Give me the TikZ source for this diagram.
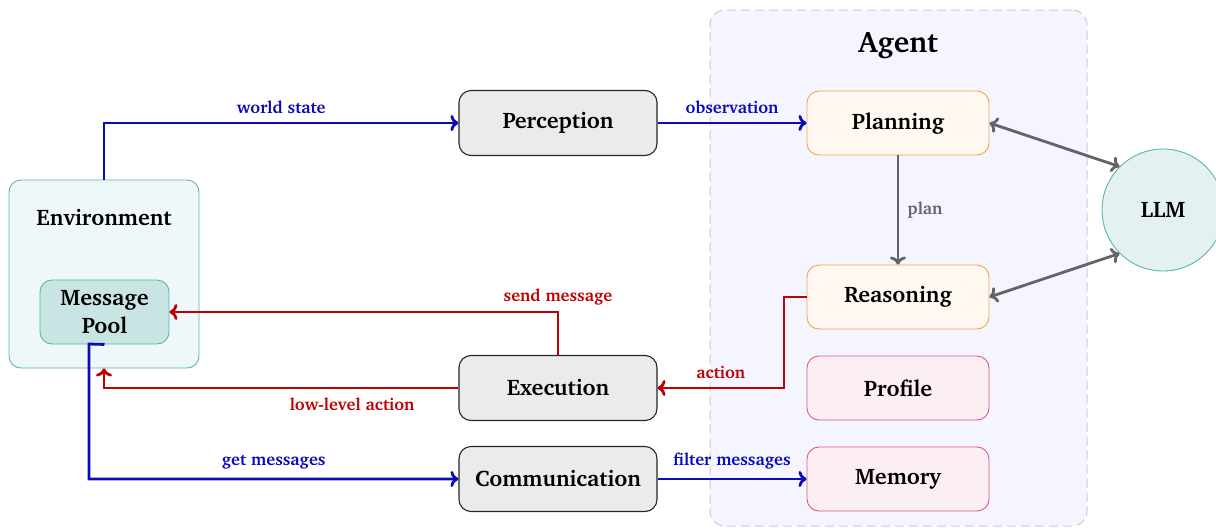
\documentclass[tikz,border=0pt]{standalone}
\usepackage[T1]{fontenc}
\usepackage{charter}
\usetikzlibrary{arrows.meta}
\definecolor{ablue}{RGB}{10,10,185}
\definecolor{ared}{RGB}{190,0,0}
\definecolor{agray}{RGB}{100,100,100}
\definecolor{grayfill}{RGB}{235,235,235}
\definecolor{orfill}{RGB}{255,248,240}
\definecolor{ordraw}{RGB}{242,165,74}
\definecolor{pkfill}{RGB}{252,239,244}
\definecolor{pkdraw}{RGB}{218,90,138}
\definecolor{envfill}{RGB}{239,248,248}
\definecolor{tealdraw}{RGB}{90,180,176}
\definecolor{poolfill}{RGB}{200,229,228}
\definecolor{llmfill}{RGB}{227,241,240}
\definecolor{agfill}{RGB}{245,245,255}
\definecolor{agdraw}{RGB}{204,204,204}
\tikzset{
  boxfont/.style={font=\fontsize{22.5}{28}\selectfont\bfseries},
  lblfont/.style={font=\fontsize{17}{20}\selectfont\bfseries},
  modbox/.style={boxfont, rounded corners=12pt, minimum width=198pt, minimum height=65pt, line width=1.1pt, draw=black!85, fill=grayfill},
  agbox/.style={boxfont, rounded corners=12pt, minimum width=182pt, minimum height=64pt, line width=0.9pt},
  orbox/.style={agbox, draw=ordraw, fill=orfill},
  pkbox/.style={agbox, draw=pkdraw, fill=pkfill},
  tip/.style={-{Computer Modern Rightarrow[length=8pt,width=16pt]}},
  bluearrow/.style={tip, draw=ablue, line width=2.8pt},
  redarrow/.style={tip, draw=ared, line width=2.8pt},
  grayarrow/.style={tip, draw=agray, line width=2.8pt},
  grayboth/.style={{Computer Modern Rightarrow[length=8pt,width=16pt]}-{Computer Modern Rightarrow[length=8pt,width=16pt]}, draw=agray, line width=2.8pt},
  bluelbl/.style={lblfont, text=ablue},
  redlbl/.style={lblfont, text=ared},
  graylbl/.style={lblfont, text=agray},
}
\begin{document}
\begin{tikzpicture}[x=1pt,y=-1pt]
\useasboundingbox (0,0) rectangle (1216,528);
% Agent container
\node[draw=agdraw, dash pattern=on 9pt off 5pt, fill=agfill, line width=1pt, rounded corners=15pt, minimum width=377pt, minimum height=516pt] (agent) at (898.5,268) {};
\node[font=\fontsize{29.5}{34}\selectfont\bfseries] (agenttitle) at (898,45) {Agent};
% Environment
\node[draw=tealdraw, fill=envfill, line width=0.9pt, rounded corners=12pt, minimum width=190pt, minimum height=188pt] (env) at (104,274) {};
\node[boxfont] (envlabel) at (104,218) {Environment};
\node[boxfont, align=center, draw=tealdraw, fill=poolfill, line width=0.9pt, rounded corners=12pt, minimum width=129pt, minimum height=64pt] (pool) at (104.5,312) {Message\\Pool};
% Modules
\node[modbox] (perc) at (558,123) {Perception};
\node[modbox] (exec) at (558,388) {Execution};
\node[modbox] (comm) at (558,479) {Communication};
% Agent parts
\node[orbox] (plan) at (898,123) {Planning};
\node[orbox] (reas) at (898,297) {Reasoning};
\node[pkbox] (prof) at (898,388) {Profile};
\node[pkbox] (mem) at (898,479) {Memory};
% LLM
\node[boxfont, circle, draw=tealdraw, fill=llmfill, line width=0.9pt, minimum size=122pt] (llm) at (1163,210) {LLM};
% Connectors
\draw[bluearrow] (env.north) |- node[bluelbl, pos=0.75, above=5pt] {world state} (perc.west);
\draw[bluearrow] (perc.east) -- node[bluelbl, midway, above=5pt] {observation} (plan.west);
\draw[grayarrow] (plan.south) -- node[graylbl, midway, right=5pt] {plan} (reas.north);
\draw[grayboth] (plan.east) -- (llm.north west);
\draw[grayboth] (reas.east) -- (llm.south west);
\coordinate (abend) at (784,297);
\draw[redarrow] (reas.west) -- (abend) |- node[redlbl, pos=0.75, above=5pt] {action} (exec.east);
\draw[redarrow] (exec.north) |- node[redlbl, pos=0.5, above=2pt] {send message} (pool.east);
\draw[redarrow] (exec.west) -| node[redlbl, pos=0.15, below=5pt] {low-level action} (env.south);
\coordinate (gbend) at (89,344);
\draw[bluearrow] (pool.south) -- (gbend) |- node[bluelbl, pos=0.75, above=5pt] {get messages} (comm.west);
\draw[bluearrow] (comm.east) -- node[bluelbl, midway, above=5pt] {filter messages} (mem.west);
\end{tikzpicture}
\end{document}
